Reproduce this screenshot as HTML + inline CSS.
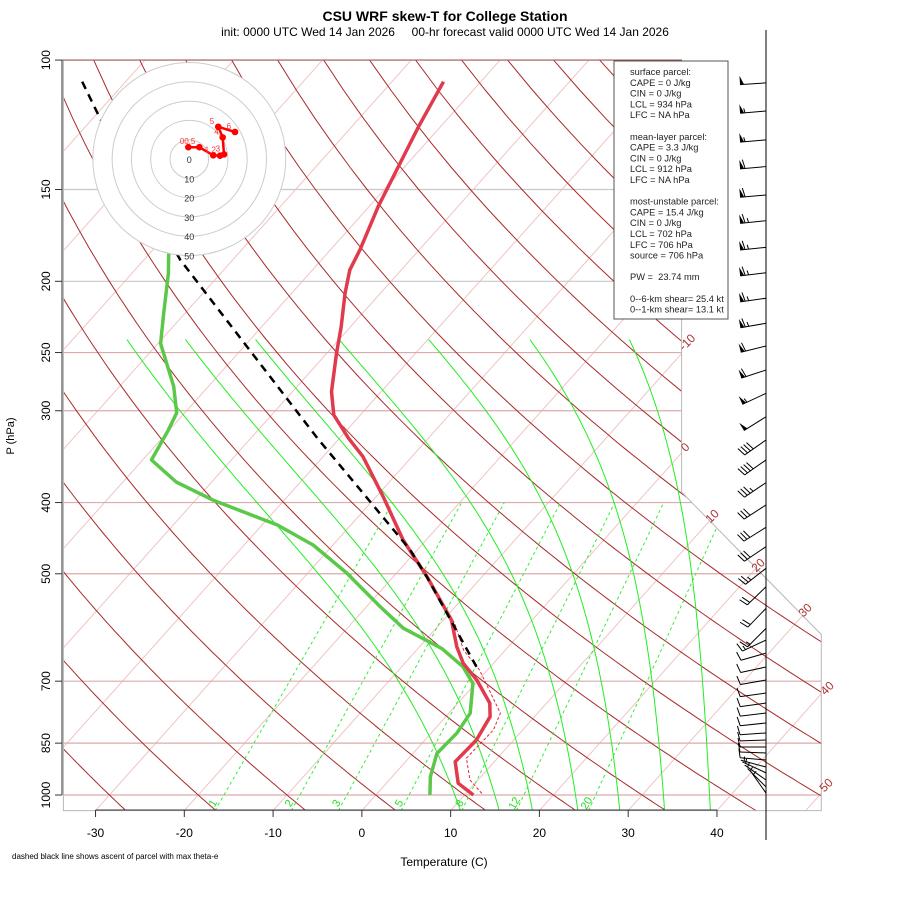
<!DOCTYPE html>
<html><head><meta charset="utf-8"><style>
html,body{margin:0;padding:0;background:#fff;}
svg{display:block;font-family:"Liberation Sans",sans-serif;}
</style></head><body>
<svg id="chart" width="900" height="900" viewBox="0 0 900 900" xmlns="http://www.w3.org/2000/svg">
<rect width="900" height="900" fill="#fff"/>
<defs><clipPath id="plotclip"><polygon id="clipPoly" points=""/></clipPath></defs>
<text x="445" y="21" text-anchor="middle" font-size="14" font-weight="bold">CSU WRF skew-T for College Station</text>
<text x="445" y="36" text-anchor="middle" font-size="12" xml:space="preserve">init: 0000 UTC Wed 14 Jan 2026     00-hr forecast valid 0000 UTC Wed 14 Jan 2026</text>
<g id="bg" clip-path="url(#plotclip)"></g>
<polygon id="frame" fill="none" stroke="#b8b8b8" stroke-width="1" points=""/>
<g id="labels"></g>
<g id="profiles" clip-path="url(#plotclip)"></g>
<g id="axes"></g>
<g id="hodo"></g>
<g id="barbs"></g>
<g>
<rect x="614" y="61" width="114" height="258" fill="#fff" stroke="#555" stroke-width="1"/>
<text font-size="9.3" fill="#222" x="630" xml:space="preserve">
<tspan x="630" y="75">surface parcel:</tspan>
<tspan x="630" y="85.8">CAPE = 0 J/kg</tspan>
<tspan x="630" y="96.6">CIN = 0 J/kg</tspan>
<tspan x="630" y="107.4">LCL = 934 hPa</tspan>
<tspan x="630" y="118.2">LFC = NA hPa</tspan>
<tspan x="630" y="139.8">mean-layer parcel:</tspan>
<tspan x="630" y="150.6">CAPE = 3.3 J/kg</tspan>
<tspan x="630" y="161.4">CIN = 0 J/kg</tspan>
<tspan x="630" y="172.2">LCL = 912 hPa</tspan>
<tspan x="630" y="183">LFC = NA hPa</tspan>
<tspan x="630" y="204.6">most-unstable parcel:</tspan>
<tspan x="630" y="215.4">CAPE = 15.4 J/kg</tspan>
<tspan x="630" y="226.2">CIN = 0 J/kg</tspan>
<tspan x="630" y="237">LCL = 702 hPa</tspan>
<tspan x="630" y="247.8">LFC = 706 hPa</tspan>
<tspan x="630" y="258.6">source = 706 hPa</tspan>
<tspan x="630" y="280.2">PW =  23.74 mm</tspan>
<tspan x="630" y="301.8">0--6-km shear= 25.4 kt</tspan>
<tspan x="630" y="312.6">0--1-km shear= 13.1 kt</tspan>
</text>
</g>
<text x="444" y="866" text-anchor="middle" font-size="12">Temperature (C)</text>
<text transform="translate(14,436) rotate(-90)" text-anchor="middle" font-size="11">P (hPa)</text>
<text x="12" y="859" font-size="8">dashed black line shows ascent of parcel with max theta-e</text>
</svg>
<script>
// ---- data ----
const tempP = [107,123,140,158,181,193,207.5,231,250.6,282.6,304,327,346.5,392.7,449.8,504.7,578,628.5,662,697.5,750,782.5,842,901,964,1000];
const tempT = [-64.2,-62.5,-60.7,-59.0,-56.7,-55.8,-54.0,-51.0,-48.9,-45.6,-43.0,-39.0,-35.5,-29.2,-22.6,-16.2,-9.1,-5.8,-3.4,-0.2,3.6,5.0,5.8,5.6,8.1,11.0];
const dewP = [183,195,221,243,278,302,319,350,375,397,429,457,499,554,593,632,669,705,774,824,878,944,1000];
const dewT = [-77.9,-75.9,-72.4,-69.7,-63.9,-60.9,-60.1,-59.0,-54.0,-48.0,-38.3,-32.2,-25.6,-18.5,-13.7,-7.3,-3.1,-0.3,2.4,2.9,2.7,4.3,6.1];
const parcelP = [107,120,187,327,464,505,670];
const parcelT = [-104.9,-99.2,-75.9,-42.5,-20.8,-16.2,-1.5];
const virtP = [505,584,635,676,774,816,891,954,1000];
const virtT = [-16.2,-8.4,-4.7,-0.9,5.8,6.7,6.5,9.1,12.1];
const barbP = [107.4,117.3,128.4,139.6,152.6,165.4,179.8,194.7,210.9,228.1,244.9,264.1,284.1,305.7,328.8,350,375.8,403,432.3,459.3,491.5,520.8,557.2,593.3,615.4,641,669.7,697.5,726.5,749.6,773.4,798,823.3,841.7,860.3,876.5,896,916,933,954,975,994];
const barbSpd = [50,55,55,60,60,65,65,65,65,65,60,60,55,50,40,40,35,30,30,30,25,20,20,15,15,10,10,10,10,10,10,10,10,10,10,10,10,5,5,5,5,5];
const barbDir = [266,265,265,265,265,264,264,263,262,260,256,252,245,238,235,235,236,237,238,236,232,226,224,225,245,254,258,260,262,262,263,264,266,268,270,272,275,285,295,305,315,325];
const hodoU = [-0.5,5.2,12.4,15.9,18.0,17.3,15.0,23.7];
const hodoV = [6.1,6.1,1.9,1.7,2.4,11.2,16.7,14.0];
const hodoLbl = ["0","0.5","1","2","3","4","5","6"];
const isobars = [100,150,200,250,300,400,500,700,850,1000];
const tempTicks = [-30,-20,-10,0,10,20,30,40];
const mixRatios = [1,2,3,5,8,12,20];
const moistTop = [-73.9,-67.3,-59.4,-50.0,-39.9,-28.5,-17.3];
const moistBottom = [8.9,13.4,17.3,22.5,27.3,32.4,37.6];
const isoLabelT = [-10,0,10,20,30,40,50];

// ---- transforms ----
const NS="http://www.w3.org/2000/svg";
function yd(p){return 132.182-44.061*Math.log10(p);}
function Y(p){return 795-16.68*yd(p);}
function X(T,p){return 375.8+16.44*(0.54*T+0.90692*yd(p));}
function px(xd){return 375.8+16.44*xd;}
function py(y){return 795-16.68*y;}
function el(tag,attrs,parent){const e=document.createElementNS(NS,tag);for(const k in attrs)e.setAttribute(k,attrs[k]);parent.appendChild(e);return e;}
function pathFrom(Ts,Ps){return Ts.map((t,i)=>(i?'L':'M')+X(t,Ps[i]).toFixed(1)+','+Y(Ps[i]).toFixed(1)).join('');}

const polyD=[[-19,-0.9346217],[27.1,-0.9346217],[27.1,9.618183],[18.6,18.15829],[18.6,44.0608],[-19,44.0608]];
const polyStr=polyD.map(q=>px(q[0]).toFixed(1)+','+py(q[1]).toFixed(1)).join(' ');
document.getElementById('clipPoly').setAttribute('points',polyStr);
document.getElementById('frame').setAttribute('points',polyStr);

const bg=document.getElementById('bg');
for(let T=-120;T<=50;T+=10){
  const l=el('line',{x1:X(T,1050),y1:Y(1050),x2:X(T,100),y2:Y(100),stroke:'#efc4c4','stroke-width':1},bg);
  
  
}
isobars.forEach(p=>{
  const l=el('line',{x1:60,y1:Y(p),x2:830,y2:Y(p),stroke:(p==150||p==200)?'#c8c8c8':'#dcaaaa','stroke-width':1.2},bg);
  
  
});
for(let th=-30;th<=170;th+=10){
  let d='';
  for(let p=1050;p>=100;p-=10){const T=(th+273.15)*Math.pow(p/1000,0.2857)-273.15;d+=(d?'L':'M')+X(T,p).toFixed(1)+','+Y(p).toFixed(1);}
  const a=el('path',{d:d,fill:'none',stroke:'#a82a2a','stroke-width':1},bg);
  
  
}
function es(Tc){return 6.112*Math.exp(17.67*Tc/(Tc+243.5));}
function integrate(T0){
  let T=T0+273.15, p=240; const pts=[[p,T0]];
  while(p<1050){
    const dp=2;
    const e=es(T-273.15), rs=0.622*e/(p-e);
    const dTdlnp=(287*T+2.5e6*rs)/(1005+2.5e6*2.5e6*rs*0.622/(287*T*T));
    T+=dTdlnp*Math.log((p+dp)/p); p+=dp;
    pts.push([p,T-273.15]);
  }
  return pts;
}
moistTop.forEach((T0,k)=>{
  const pts=integrate(T0);
  let t1000=0; pts.forEach(q=>{if(Math.abs(q[0]-1000)<1)t1000=q[1];});
  const delta=moistBottom[k]-t1000, span=Math.log(1000/240);
  const d=pts.map((q,i)=>{const f=Math.log(q[0]/240)/span;const T=q[1]+delta*f;return (i?'L':'M')+X(T,q[0]).toFixed(1)+','+Y(q[0]).toFixed(1);}).join('');
  const m=el('path',{d:d,fill:'none',stroke:'#22ee22','stroke-width':1},bg);
  
  
});
function tdw(w,p){const e=w*p/(622+w);const l=Math.log(e/6.112);return 243.5*l/(17.67-l);}
const lab=document.getElementById('labels');
mixRatios.forEach(w=>{
  const m=el('line',{x1:X(tdw(w,1050),1050),y1:Y(1050),x2:X(tdw(w,400),400),y2:Y(400),stroke:'#33ee33','stroke-width':1,'stroke-dasharray':'3,3'},bg);
  
  
  const x=X(tdw(w,1050),1050), t=el('text',{x:0,y:0,'font-size':11,fill:'#22dd22','text-anchor':'middle',transform:`translate(${(x+1).toFixed(1)},${805}) rotate(-60)`},lab);
  t.textContent=w;
  
  
});
const isoLabPos={'-10':[690,345],'0':[688,450],'10':[715,519],'20':[761,568],'30':[808,613],'40':[830,691],'50':[829,788]};
isoLabelT.forEach(T=>{
  const q=isoLabPos[String(T)];
  const t=el('text',{x:0,y:0,'font-size':12,fill:'#b03030','text-anchor':'middle',transform:`translate(${q[0]},${q[1]}) rotate(-45)`},lab);
  t.textContent=T;
  
  
});
el('line',{x1:62,y1:60,x2:682,y2:60,stroke:'#a05050','stroke-width':1},lab);

const prof=document.getElementById('profiles');
const pv=el('path',{d:pathFrom(virtT,virtP),fill:'none',stroke:'#ee2233','stroke-width':1,'stroke-dasharray':'3,2'},prof);


const pd=el('path',{d:pathFrom(dewT,dewP),fill:'none',stroke:'#5cc84a','stroke-width':3.5,'stroke-linejoin':'round'},prof);


const pt=el('path',{d:pathFrom(tempT,tempP),fill:'none',stroke:'#e03a4c','stroke-width':3.5,'stroke-linejoin':'round'},prof);


const pp=el('path',{d:pathFrom(parcelT,parcelP),fill:'none',stroke:'#000','stroke-width':2.5,'stroke-dasharray':'8,6'},prof);



const ax=document.getElementById('axes');
el('line',{x1:62,y1:Y(100),x2:62,y2:Y(1000),stroke:'#333','stroke-width':1},ax);
isobars.forEach(p=>{
  el('line',{x1:55,y1:Y(p),x2:62,y2:Y(p),stroke:'#333','stroke-width':1},ax);
  const t=el('text',{x:0,y:0,'font-size':12,'text-anchor':'middle',transform:`translate(50,${Y(p).toFixed(1)}) rotate(-90)`},ax);
  t.textContent=p;
  
  
});
el('line',{x1:X(-30,1050),y1:810,x2:X(40,1050),y2:810,stroke:'#333','stroke-width':1},ax);
tempTicks.forEach(T=>{
  const x=X(T,1050);
  el('line',{x1:x,y1:810,x2:x,y2:817,stroke:'#333','stroke-width':1},ax);
  const t=el('text',{x:x,y:837,'font-size':12,'text-anchor':'middle'},ax);
  t.textContent=T;
  
  
});

const hg=document.getElementById('hodo');
const hc=[189.3,159], hs=1.93;
const hodoBg=el('circle',{cx:hc[0],cy:hc[1],r:50*hs,fill:'#fff',stroke:'#ccc'},hg);


[10,20,30,40].forEach(r=>el('circle',{cx:hc[0],cy:hc[1],r:r*hs,fill:'none',stroke:'#ccc'},hg));
[0,10,20,30,40,50].forEach(r=>{const t=el('text',{x:hc[0],y:hc[1]+r*hs+4,'font-size':9,'text-anchor':'middle',fill:'#333'},hg);t.textContent=r;});
const hd=hodoU.map((u,i)=>(i?'L':'M')+(hc[0]+u*hs).toFixed(1)+','+(hc[1]-hodoV[i]*hs).toFixed(1)).join('');
el('path',{d:hd,fill:'none',stroke:'#f00','stroke-width':2.5},hg);
hodoU.forEach((u,i)=>{
  const c=el('circle',{cx:hc[0]+u*hs,cy:hc[1]-hodoV[i]*hs,r:3.3,fill:'#f00'},hg);
  
  
  const t=el('text',{x:hc[0]+u*hs-4,y:hc[1]-hodoV[i]*hs-3,'font-size':8,fill:'#f33','text-anchor':'end'},hg);
  t.textContent=hodoLbl[i];
});

const bgp=document.getElementById('barbs');
const staff=el('line',{x1:766,y1:30,x2:766,y2:840,stroke:'#000','stroke-width':1},bgp);


barbP.forEach((p,i)=>{
  const g=el('g',{},bgp);
  
  
  const y0=Y(p), a=barbDir[i]*Math.PI/180, L=26;
  const ux=Math.sin(a), uy=-Math.cos(a);
  const ex=766+ux*L, ey=y0+uy*L;
  el('line',{x1:766,y1:y0,x2:ex,y2:ey,stroke:'#000','stroke-width':1},g);
  let s=barbSpd[i], pos=0;
  let vx=-uy, vy=ux; if(vy>0){vx=-vx;vy=-vy;}
  while(s>=50){
    const bx=ex-ux*pos, by=ey-uy*pos;
    el('polygon',{points:`${bx},${by} ${bx-ux*4},${by-uy*4} ${bx+vx*9},${by+vy*9}`,fill:'#000'},g);
    pos+=5; s-=50;
  }
  while(s>=10){
    const bx=ex-ux*pos, by=ey-uy*pos;
    el('line',{x1:bx,y1:by,x2:bx+vx*9+ux*2,y2:by+vy*9+uy*2,stroke:'#000','stroke-width':1},g);
    pos+=3.5; s-=10;
  }
  if(s>=5){
    if(pos==0)pos=3.5;
    const bx=ex-ux*pos, by=ey-uy*pos;
    el('line',{x1:bx,y1:by,x2:bx+vx*4.5+ux,y2:by+vy*4.5+uy,stroke:'#000','stroke-width':1},g);
  }
});
</script>
</body></html>
